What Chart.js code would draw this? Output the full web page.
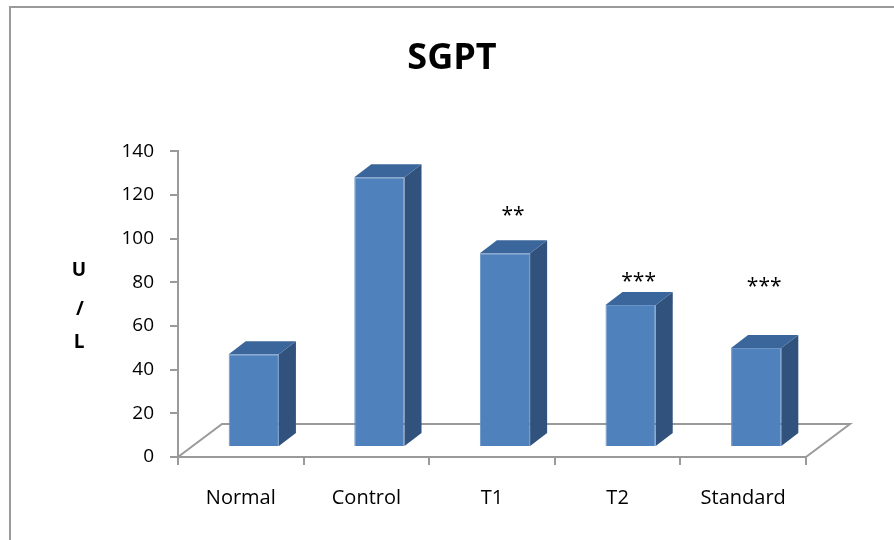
<!DOCTYPE html>
<html lang="en">
<head>
<meta charset="UTF-8" />
<title>SGPT</title>
<script src="https://cdn.jsdelivr.net/npm/chart.js"></script>
<style>
    body { margin: 0; background: #fff; }
    #wrap { position: relative; width: 894px; height: 540px; overflow: hidden; }
    #frame {
        position: absolute; left: 9px; top: 6px; width: 900px; height: 600px;
        border-left: 2px solid #9a9a9a; border-top: 2px solid #9a9a9a;
    }
    canvas { position: absolute; left: 0; top: 0; }
</style>
</head>
<body>
<div id="wrap">
    <div id="frame"></div>
    <canvas id="chart" width="894" height="540"></canvas>
</div>
<script>
    // groups and SGPT values (U/L)
    const groups = ["Normal", "Control", "T1", "T2", "Standard"];
    const sgpt = [42.5, 123.5, 88.7, 65, 45.3];
    // significance marks and the level (U/L) where they sit
    const marks = ["", "", "**", "***", "***"];
    const markLevel = [null, null, 110.5, 80, 78];
    const yTicks = [0, 20, 40, 60, 80, 100, 120, 140];

    const depth = { dx: 44, dy: 33 };     // floor depth
    const barShift = { dx: 13, dy: 10 };  // bars sit inside the floor
    const barSide = { dx: 17, dy: 13 };   // bar thickness

    const fontFam = "'Open Sans', sans-serif";

    const threeD = {
        id: "threeD",
        beforeDatasetsDraw(chart) {
            const ctx = chart.ctx, a = chart.chartArea;
            ctx.save();
            ctx.strokeStyle = "#9a9a9a";
            ctx.lineWidth = 2;
            ctx.beginPath();
            ctx.moveTo(a.left, a.bottom);
            ctx.lineTo(a.left + depth.dx, a.bottom - depth.dy);
            ctx.lineTo(a.right + depth.dx, a.bottom - depth.dy);
            ctx.lineTo(a.right, a.bottom);
            ctx.stroke();
            ctx.restore();
            ctx.save();
            ctx.translate(barShift.dx, -barShift.dy);
        },
        afterDatasetsDraw(chart) {
            const ctx = chart.ctx;
            chart.getDatasetMeta(0).data.forEach(bar => {
                const l = bar.x - bar.width / 2, r = bar.x + bar.width / 2;
                const t = bar.y, b = bar.base;
                // side
                ctx.fillStyle = "#30527d";
                ctx.beginPath();
                ctx.moveTo(r, b);
                ctx.lineTo(r + barSide.dx, b - barSide.dy);
                ctx.lineTo(r + barSide.dx, t - barSide.dy);
                ctx.lineTo(r, t);
                ctx.closePath();
                ctx.fill();
                // top
                ctx.fillStyle = "#3b669b";
                ctx.beginPath();
                ctx.moveTo(l, t);
                ctx.lineTo(l + barSide.dx, t - barSide.dy);
                ctx.lineTo(r + barSide.dx, t - barSide.dy);
                ctx.lineTo(r, t);
                ctx.closePath();
                ctx.fill();
            });
            ctx.restore();
        },
        afterDraw(chart) {
            const ctx = chart.ctx, y = chart.scales.y;
            ctx.save();
            ctx.fillStyle = "#000";
            ctx.textAlign = "center";
            ctx.textBaseline = "middle";
            // stacked axis title
            ctx.font = "bold 19px " + fontFam;
            ctx.fillText("U", 79, 271);
            ctx.fillText("/", 80, 310);
            ctx.fillText("L", 79, 343);
            // significance marks
            ctx.font = "21px " + fontFam;
            chart.getDatasetMeta(0).data.forEach((bar, i) => {
                if (!marks[i]) return;
                ctx.fillText(marks[i], bar.x + barShift.dx + 8, y.getPixelForValue(markLevel[i]));
            });
            ctx.restore();
        }
    };

    new Chart(document.getElementById("chart"), {
        type: "bar",
        data: {
            labels: groups,
            datasets: [{
                data: sgpt,
                backgroundColor: "#4f81bd",
                borderColor: "#6a94c8",
                borderWidth: 1,
                categoryPercentage: 1,
                barPercentage: 0.4
            }]
        },
        options: {
            responsive: false,
            animation: false,
            layout: { padding: { left: 10, right: 0, top: 0, bottom: 0 } },
            plugins: {
                legend: { display: false },
                tooltip: { enabled: false },
                title: {
                    display: true,
                    text: "SGPT",
                    color: "#000",
                    font: { family: fontFam, size: 36, weight: "bold", lineHeight: 1.2 },
                    padding: { top: 37, bottom: 71 }
                }
            },
            scales: {
                x: {
                    afterFit: s => { s.height = 83; },
                    border: { color: "#9a9a9a", width: 2 },
                    grid: { drawOnChartArea: false, drawTicks: true, tickLength: 8, color: "#9a9a9a", lineWidth: 2 },
                    ticks: { color: "#000", padding: 21, font: { family: fontFam, size: 20 } }
                },
                y: {
                    min: 0,
                    max: 140,
                    afterFit: s => { s.width = 168; },
                    afterBuildTicks: s => { s.ticks = yTicks.map(v => ({ value: v })); },
                    border: { color: "#9a9a9a", width: 2 },
                    grid: { drawOnChartArea: false, drawTicks: true, tickLength: 8, color: "#9a9a9a", lineWidth: 2 },
                    ticks: { color: "#000", padding: 16, font: { family: fontFam, size: 19 } }
                },
                // empty right-hand strip so the plot ends where the reference does
                yRight: {
                    position: "right",
                    afterFit: s => { s.width = 88; },
                    border: { display: false },
                    grid: { display: false },
                    ticks: { display: false }
                }
            }
        },
        plugins: [threeD]
    });
</script>
</body>
</html>
